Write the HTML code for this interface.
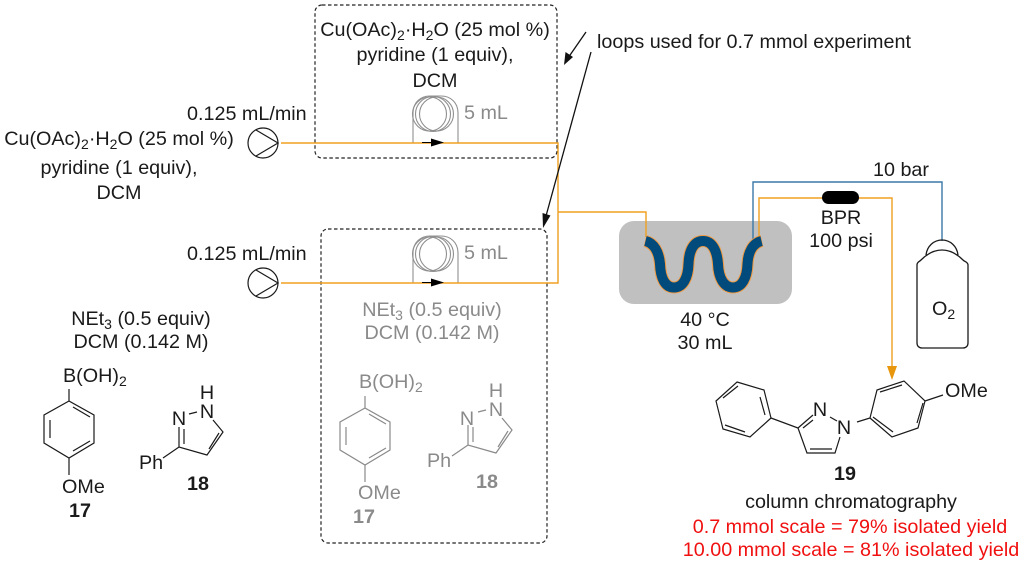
<!DOCTYPE html>
<html><head><meta charset="utf-8"><style>
html,body{margin:0;padding:0;background:#fff;width:1024px;height:568px;overflow:hidden}
svg{display:block}
text{font-family:"Liberation Sans",sans-serif;font-size:19.75px;fill:#1a1a1a}
.m{text-anchor:middle}
.g{fill:#8a8a8a}
.b{font-weight:bold}
.r{fill:#f01010}
.s{font-size:14px}
</style></head><body>
<svg width="1024" height="568" viewBox="0 0 1024 568" xmlns="http://www.w3.org/2000/svg">
<defs>
<g id="coil" fill="none" stroke="#8f8f8f" stroke-width="1.1">
<path d="M413 143V113C413 102 421 96 430 96H441C450 96 458 102 458 113V143"/>
<circle cx="429.500" cy="114" r="17"/><circle cx="433" cy="114" r="17.500"/><circle cx="436.500" cy="114" r="17"/>
</g>
<g id="pump" fill="none" stroke="#1a1a1a" stroke-width="1.2">
<circle cx="263" cy="143" r="15"/><path d="M256 130L278 143L256 156"/>
</g>
<g id="mol17" fill="none" stroke-width="1.2">
<path d="M69 389V401L94 415V443L69 458L44 443V415L69 401M69 458V475M73 407L90 417M50 420V438M73 451L90 441"/>
</g>
<g id="mol18" fill="none" stroke-width="1.2">
<path d="M163 458L179 447L207 455L223 432L213 420M179 427V447M184 429V444M209 449L219 433M189 414L197 412"/>
</g>
</defs>

<!-- dashed boxes -->
<rect x="315" y="5" width="242" height="153" rx="7" fill="none" stroke="#222" stroke-width="1.2" stroke-dasharray="3.500 2.500"/>
<rect x="321" y="229" width="226" height="314" rx="7" fill="none" stroke="#222" stroke-width="1.2" stroke-dasharray="3.500 2.500"/>

<!-- reactor -->
<rect x="619" y="221" width="173" height="83" rx="15" fill="#c0c0c0"/>

<!-- coils -->
<use href="#coil"/>
<use href="#coil" y="140"/>

<!-- orange lines -->
<g fill="none" stroke="#f0a020" stroke-width="1.4">
<path d="M281 143H558V283H281"/>
<path d="M558 212H646V237"/>
<path d="M759 238V198H892V368"/>
</g>
<path d="M887 366H897L892 380Z" fill="#e8960c"/>

<!-- blue line -->
<path d="M753 240V182H942V241" fill="none" stroke="#3b78a8" stroke-width="1.4"/>

<!-- serpentine -->
<path d="M645 241C654 243 659 252 660 264C660.500 278 665 287.500 674 287.500C683 287.500 688 278 688.500 264C689 250 694 241 703 241C712 241 717 250 718 264C718.500 278 724 287.500 733 287.500C742 287.500 747 278 747.500 264C748 252 753 243 762 241" fill="none" stroke="#f29a40" stroke-width="12"/>
<path d="M645.500 241C654 243 659 252 660 264C660.500 278 665 287.500 674 287.500C683 287.500 688 278 688.500 264C689 250 694 241 703 241C712 241 717 250 718 264C718.500 278 724 287.500 733 287.500C742 287.500 747 278 747.500 264C748 252 753 243 761.500 241" fill="none" stroke="#004a7c" stroke-width="10"/>

<!-- BPR -->
<rect x="822" y="191" width="37" height="13" rx="6.500" fill="#000"/>

<!-- pumps -->
<use href="#pump"/>
<use href="#pump" y="140"/>

<!-- small arrows on coils -->
<g fill="#000" stroke="none">
<path d="M422 142H434V143H422Z"/><path d="M431 138.500L444 142.500L431 146.500Z"/>
<path d="M422 282H434V283H422Z"/><path d="M431 278.500L444 282.500L431 286.500Z"/>
</g>

<!-- annotation arrows -->
<g stroke="#111" stroke-width="1.3" fill="none">
<path d="M586 32L568 58"/>
<path d="M591 52L546 216"/>
</g>
<path d="M564 65L565.500 52L573 57Z" fill="#111"/>
<path d="M543 228L542.500 213L550.500 215.500Z" fill="#111"/>

<!-- O2 cylinder -->
<g fill="none" stroke="#1a1a1a" stroke-width="1.3">
<path d="M926 255C927 246 934 240 942 240C950 240 957 246 958 255"/>
<path d="M917 265C917 262 919 262 921 260C927 254 934 250 942 250C950 250 957 254 963 260C965 262 968 262 968 265V343C968 346 966 348 963 348H922C919 348 917 346 917 343Z"/>
</g>

<!-- molecules -->
<use href="#mol17" stroke="#1a1a1a"/>
<use href="#mol18" stroke="#1a1a1a"/>
<use href="#mol17" x="296" y="7" stroke="#8a8a8a"/>
<use href="#mol18" x="289" y="-2" stroke="#8a8a8a"/>

<g fill="none" stroke="#1a1a1a" stroke-width="1.2">
<path d="M737 382L764 390L771 418L750 437L723 429L716 401ZM723 398L738 386M760 397L765 415M725 425L745 432"/>
<path d="M771 418L798 428L807 453H835L840 437M798 428L813 415M803 428L813 420M810 449H832M830 417L837 421"/>
<path d="M857 422L870 418L877 390L904 381L925 401L918 428L892 437L870 418M880 392L902 385M923 403L917 423M873 417L893 432M925 401L943 395"/>
</g>

<!-- left text -->
<text x="187" y="120">0.125 mL/min</text>
<text x="187" y="260">0.125 mL/min</text>
<text x="119" y="145" class="m">Cu(OAc)<tspan class="s" dy="4">2</tspan><tspan dy="-4">·H</tspan><tspan class="s" dy="4">2</tspan><tspan dy="-4">O (25 mol %)</tspan></text>
<text x="119" y="174" class="m">pyridine (1 equiv),</text>
<text x="119" y="199" class="m">DCM</text>
<text x="141" y="325" class="m">NEt<tspan class="s" dy="4">3</tspan><tspan dy="-4"> (0.5 equiv)</tspan></text>
<text x="141" y="348" class="m">DCM (0.142 M)</text>

<!-- top box text -->
<text x="435" y="36" class="m">Cu(OAc)<tspan class="s" dy="4">2</tspan><tspan dy="-4">·H</tspan><tspan class="s" dy="4">2</tspan><tspan dy="-4">O (25 mol %)</tspan></text>
<text x="435" y="61" class="m">pyridine (1 equiv),</text>
<text x="435" y="87" class="m">DCM</text>
<text x="464" y="119" class="g">5 mL</text>
<text x="464" y="259" class="g">5 mL</text>
<text x="597" y="48">loops used for 0.7 mmol experiment</text>

<!-- gray text -->
<text x="432" y="316" class="m g">NEt<tspan class="s g" dy="4">3</tspan><tspan dy="-4"> (0.5 equiv)</tspan></text>
<text x="432" y="339" class="m g">DCM (0.142 M)</text>
<text x="359" y="388" class="g">B(OH)<tspan class="s g" dy="4">2</tspan></text>
<text x="358" y="499" class="g">OMe</text>
<text x="364" y="523" class="m g b">17</text>
<text x="467" y="425" class="m g">N</text>
<text x="496" y="416" class="m g">N</text>
<text x="496" y="397" class="m g">H</text>
<text x="427" y="467" class="g">Ph</text>
<text x="487" y="488" class="m g b">18</text>

<!-- black molecule text -->
<text x="63" y="382">B(OH)<tspan class="s" dy="4">2</tspan></text>
<text x="62" y="493">OMe</text>
<text x="80" y="517" class="m b">17</text>
<text x="179" y="425" class="m">N</text>
<text x="207" y="418" class="m">N</text>
<text x="207" y="399" class="m">H</text>
<text x="139" y="469">Ph</text>
<text x="198" y="490" class="m b">18</text>

<!-- right text -->
<text x="901" y="176" class="m">10 bar</text>
<text x="841" y="224" class="m">BPR</text>
<text x="841" y="247" class="m">100 psi</text>
<text x="705" y="326" class="m">40 °C</text>
<text x="705" y="349" class="m">30 mL</text>
<text x="932" y="315">O<tspan class="s" dy="4">2</tspan></text>
<text x="820" y="416" class="m">N</text>
<text x="844" y="434" class="m">N</text>
<text x="945" y="397">OMe</text>
<text x="845" y="480" class="m b">19</text>
<text x="851" y="508" class="m">column chromatography</text>
<text x="850" y="533" class="m r">0.7 mmol scale = 79% isolated yield</text>
<text x="851" y="556" class="m r">10.00 mmol scale = 81% isolated yield</text>
</svg>
</body></html>
